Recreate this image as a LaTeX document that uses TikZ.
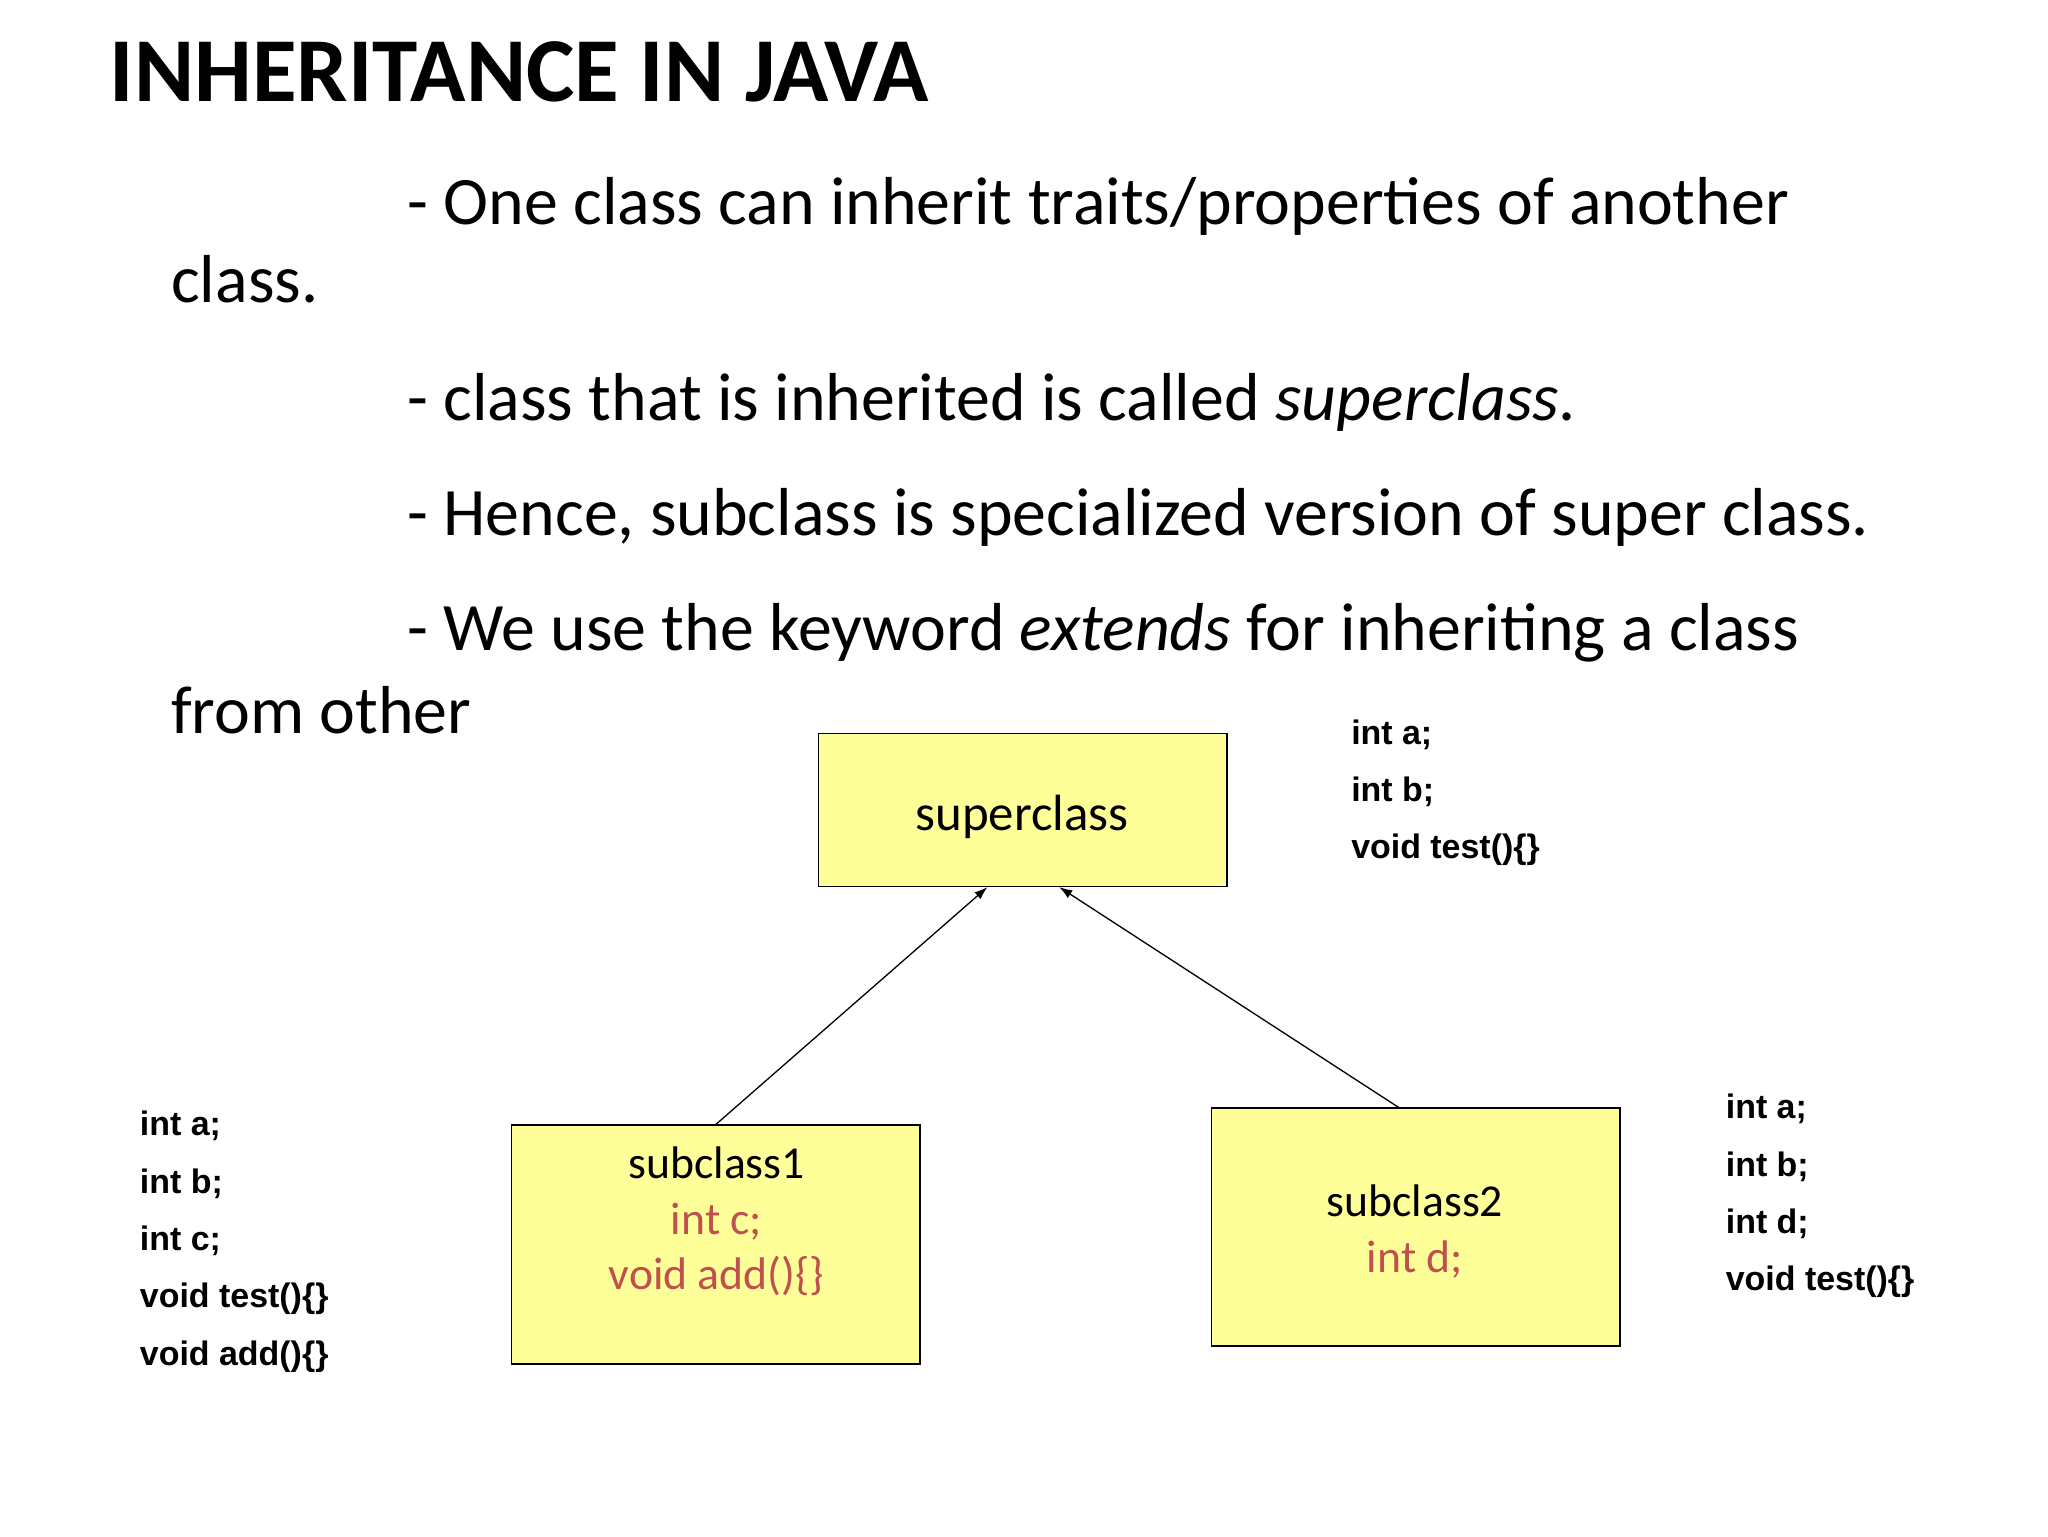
\documentclass[tikz,border=0pt]{standalone}
\usepackage{fontspec}
\usetikzlibrary{arrows.meta}
\setmainfont{Carlito}
\newfontfamily\codefont{Liberation Sans}
\definecolor{boxfill}{HTML}{FFFF99}
\definecolor{redtxt}{HTML}{C0504D}
\begin{document}
\begin{tikzpicture}[x=1pt,y=-1pt,
  body/.style={anchor=base west,inner sep=0pt,font=\fontsize{52}{56}\selectfont},
  code/.style={anchor=base west,inner sep=0pt,font=\codefont\bfseries\fontsize{26}{28}\selectfont},
  cls/.style={draw,line width=1.2pt,fill=boxfill,inner sep=0pt,minimum width=313pt},
  lbl/.style={anchor=base,inner sep=0pt,font=\fontsize{35}{38}\selectfont},
  arr/.style={-{Latex[length=10pt,width=7pt]},line width=1pt}]
\useasboundingbox (0,0) rectangle (1569,1177);
\node[anchor=base west,inner sep=0pt,font=\bfseries\fontsize{70}{74}\selectfont] (title) at (84,78) {INHERITANCE IN JAVA};
\node[body] (l1) at (312,172) {- One class can inherit traits/properties of another};
\node[body] (l1b) at (131,232) {class.};
\node[body] (l2) at (312,322) {- class that is inherited is called \textit{superclass}.};
\node[body] (l3) at (312,410) {- Hence, subclass is specialized version of super class.};
\node[body] (l4) at (312,498) {- We use the keyword \textit{extends} for inheriting a class};
\node[body] (l4b) at (131,562) {from other};
% boxes
\node[cls,minimum height=117pt] (sup) at (783.5,620.5) {};
\node[cls,minimum height=183pt] (sub1) at (548.5,953.5) {};
\node[cls,minimum height=182pt] (sub2) at (1084.5,940) {};
\node[lbl,font=\fontsize{39}{42}\selectfont] (supl) at (783,636) {superclass};
\node[lbl] (s1a) at (549,903) {subclass1};
\node[lbl,text=redtxt] (s1b) at (549,946) {int c;};
\node[lbl,text=redtxt] (s1c) at (549,988) {void add()\{\}};
\node[lbl] (s2a) at (1084,932) {subclass2};
\node[lbl,text=redtxt] (s2b) at (1084,975) {int d;};
\draw[arr] (sub1.north) -- ([xshift=-27pt]sup.south);
\draw[arr] ([xshift=-13pt]sub2.north) -- ([xshift=28pt]sup.south);
% code lists
\node[code] (c1) at (1035,570) {int a;};
\node[code] (c2) at (1035,614) {int b;};
\node[code] (c3) at (1035,658) {void test()\{\}};
\node[code] (d1) at (107,870) {int a;};
\node[code] (d2) at (107,914) {int b;};
\node[code] (d3) at (107,958) {int c;};
\node[code] (d4) at (107,1002) {void test()\{\}};
\node[code] (d5) at (107,1046) {void add()\{\}};
\node[code] (e1) at (1322,857) {int a;};
\node[code] (e2) at (1322,901) {int b;};
\node[code] (e3) at (1322,945) {int d;};
\node[code] (e4) at (1322,989) {void test()\{\}};
\end{tikzpicture}
\end{document}
